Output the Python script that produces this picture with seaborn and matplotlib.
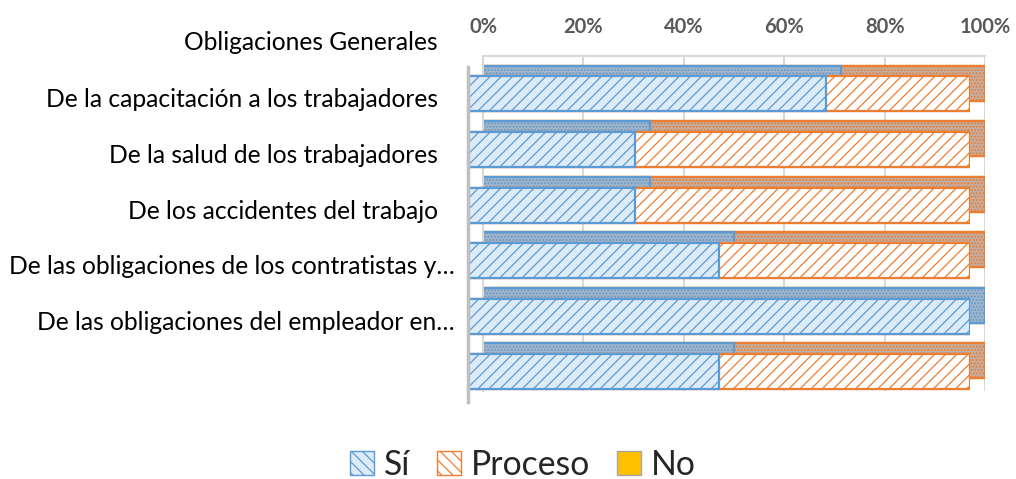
import matplotlib
matplotlib.use('Agg')
import matplotlib.pyplot as plt
import matplotlib.transforms as mtransforms
from matplotlib.patches import Patch
import pandas as pd
import seaborn as sns

# Datos (porcentajes)
encabezado = 'Obligaciones Generales'
categorias = ['De la capacitación a los trabajadores',
              'De la salud de los trabajadores',
              'De los accidentes del trabajo',
              'De las obligaciones de los contratistas y…',
              'De las obligaciones del empleador en…',
              '']
si = [71.4, 33.3, 33.3, 50.0, 100.0, 50.0]
proceso = [28.6, 66.7, 66.7, 50.0, 0.0, 50.0]
no = [0.0, 0.0, 0.0, 0.0, 0.0, 0.0]
ticks_x = [0, 20, 40, 60, 80, 100]
series = ['Sí', 'Proceso', 'No']

azul = '#5B9BD5'
azul_claro = '#DDEBF7'
azul_techo = '#A3B4C6'
naranja = '#ED7D31'
naranja_techo = '#C2ADA0'
oro = '#FFC000'
oro_techo = '#BF9000'

sns.set_style('white')
plt.rcParams['font.family'] = ['Lato', 'DejaVu Sans']
plt.rcParams['hatch.linewidth'] = 0.9

df = pd.DataFrame({'cat': categorias, 'si': si, 'proceso': proceso, 'no': no})
df['acum_proceso'] = df['si'] + df['proceso']
df['acum_no'] = df['acum_proceso'] + df['no']

fig = plt.figure(figsize=(10.16, 4.79), dpi=100)
# pared del fondo (rejilla y cara superior de las barras) y plano frontal
ax_fondo = fig.add_axes([0.4754, 0.1837, 0.4941, 0.6994])
ax = fig.add_axes([0.4606, 0.1608, 0.4941, 0.6994])
ax.patch.set_visible(False)


def apilar(eje, capas, ancho=0.63):
    # se dibuja el total y encima los acumulados
    for col, cara, borde, trama in capas:
        n_antes = len(eje.patches)
        sns.barplot(data=df, x=col, y='cat', order=categorias, orient='h',
                    color=cara, width=ancho, ax=eje, saturation=1)
        for p in eje.patches[n_antes:]:
            p.set_facecolor(cara)
            p.set_edgecolor(borde)
            p.set_linewidth(1.6)
            if trama:
                p.set_hatch(trama)


apilar(ax_fondo, [('acum_no', oro_techo, oro_techo, None),
                  ('acum_proceso', naranja_techo, naranja, '.....'),
                  ('si', azul_techo, azul, '.....')])
apilar(ax, [('acum_no', oro, '#A5A5A5', None),
            ('acum_proceso', 'white', naranja, '///'),
            ('si', azul_claro, azul, '///')])

for eje in (ax_fondo, ax):
    eje.set_xlim(0, 100)
    eje.set_ylim(5.54, -0.486)
    eje.set_xlabel('')
    eje.set_ylabel('')
    for lado in ['right', 'bottom', 'top', 'left']:
        eje.spines[lado].set_visible(False)

# Pared del fondo
ax_fondo.set_xticks(ticks_x)
ax_fondo.set_xticklabels([f'{t}%' for t in ticks_x], fontsize=14.5,
                         fontweight='bold', color='#595959')
ax_fondo.xaxis.tick_top()
ax_fondo.tick_params(axis='x', length=0, pad=14)
ax_fondo.set_yticks([])
ax_fondo.grid(axis='x', color='#D9D9D9', linewidth=1.5)
ax_fondo.set_axisbelow(True)
ax_fondo.spines['top'].set_visible(True)
ax_fondo.spines['top'].set_color('#D9D9D9')
ax_fondo.spines['top'].set_linewidth(1.5)
ax_fondo.spines['left'].set_visible(True)
ax_fondo.spines['left'].set_color('#D9D9D9')
ax_fondo.spines['left'].set_linewidth(1.5)

# Plano frontal
ax.set_xticks([])
ax.tick_params(axis='y', length=0, pad=21.6, labelsize=17.7, labelcolor='black')
ax.spines['left'].set_visible(True)
ax.spines['left'].set_color('#BFBFBF')
ax.spines['left'].set_linewidth(2.5)

# Excel deja las etiquetas recortadas (con …) algo mas a la derecha
for etiqueta in ax.get_yticklabels():
    dx = 0.17 if etiqueta.get_text().endswith('…') else 0.0
    desplazamiento = mtransforms.ScaledTranslation(dx, -0.04, fig.dpi_scale_trans)
    etiqueta.set_transform(etiqueta.get_transform() + desplazamiento)

# Etiqueta del encabezado (sin barra)
ax.annotate(encabezado, xy=(0, -1), xycoords=ax.get_yaxis_transform(),
            xytext=(-21.6, -3), textcoords='offset points', ha='right', va='center',
            fontsize=17.7, color='black', annotation_clip=False)

# Leyenda
manejadores = [Patch(facecolor=azul_claro, edgecolor=azul, hatch='\\\\\\', label=series[0]),
               Patch(facecolor='white', edgecolor=naranja, hatch='\\\\\\', label=series[1]),
               Patch(facecolor=oro, edgecolor='#A5A5A5', label=series[2])]
fig.legend(handles=manejadores, loc='center', bbox_to_anchor=(523 / 1016, 1 - 465 / 479),
           ncol=3, frameon=False, fontsize=24.3, handlelength=0.7, handleheight=0.7,
           handletextpad=0.3, columnspacing=0.8)

fig.savefig('out.png', dpi=100)
